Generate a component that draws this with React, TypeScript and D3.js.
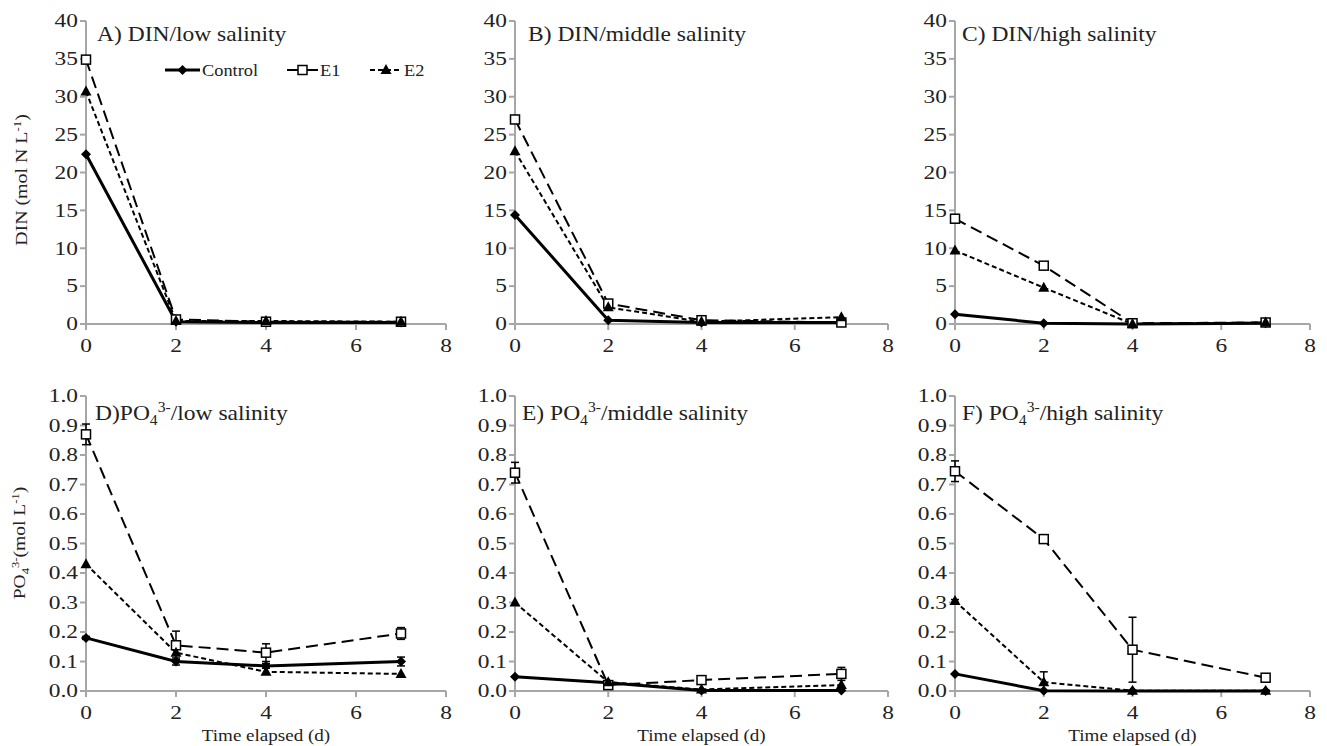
import * as React from 'react';
import * as d3 from 'd3';

const days = [0, 2, 4, 7];
const seriesNames = ['Control', 'E1', 'E2'];

// DIN panels (mol N L-1)
const dinLowControl = [22.4, 0.3, 0.2, 0.2];
const dinLowE1 = [34.9, 0.6, 0.3, 0.3];
const dinLowE2 = [30.7, 0.4, 0.4, 0.3];
const dinMidControl = [14.4, 0.5, 0.2, 0.2];
const dinMidE1 = [27.0, 2.7, 0.5, 0.2];
const dinMidE2 = [22.8, 2.2, 0.3, 0.9];
const dinHighControl = [1.3, 0.1, 0.0, 0.1];
const dinHighE1 = [13.9, 7.7, 0.1, 0.2];
const dinHighE2 = [9.7, 4.8, 0.0, 0.2];

// PO4 panels (mol L-1)
const poLowControl = [0.18, 0.1, 0.085, 0.1];
const poLowE1 = [0.87, 0.155, 0.13, 0.195];
const poLowE2 = [0.43, 0.13, 0.065, 0.058];
const poMidControl = [0.048, 0.028, 0.002, 0.002];
const poMidE1 = [0.74, 0.02, 0.037, 0.058];
const poMidE2 = [0.3, 0.03, 0.005, 0.02];
const poHighControl = [0.058, 0.001, 0.0, 0.0];
const poHighE1 = [0.745, 0.515, 0.14, 0.045];
const poHighE2 = [0.305, 0.03, 0.001, 0.001];

// error bars (half-widths), same order as days
const poLowErrControl = [0.005, 0.012, 0.008, 0.015];
const poLowErrE1 = [0.035, 0.048, 0.03, 0.02];
const poMidErrE1 = [0.035, 0.005, 0.008, 0.022];
const poHighErrE1 = [0.035, 0.01, 0.11, 0.008];
const poHighErrE2 = [0.005, 0.035, 0.002, 0.002];

const dinTicks = [0, 5, 10, 15, 20, 25, 30, 35, 40];
const poTicks = [0, 0.1, 0.2, 0.3, 0.4, 0.5, 0.6, 0.7, 0.8, 0.9, 1.0];
const xTicks = [0, 2, 4, 6, 8];

const FONT = "'Liberation Serif', 'Times New Roman', Times, serif";
const AXIS = '#a6a6a6';

const styles = [
  { width: 3, dash: '' },
  { width: 2, dash: '12,6' },
  { width: 2, dash: '5,3' },
];

// text that is a little wider than the font, as in the reference
function T({ x, y, sx = 1, rot = 0, size, anchor = 'start', dy, children }: any) {
  return (
    <text transform={`translate(${x},${y}) rotate(${rot}) scale(${sx},1)`} fontSize={size}
      textAnchor={anchor} dy={dy}>
      {children}
    </text>
  );
}

type PanelProps = {
  left: number; right: number; top: number; bottom: number;
  ymax: number; ticks: number[]; fmt: (v: number) => string;
  data: number[][]; errs?: (number[] | null)[];
  title: React.ReactNode; titleX: number; titleY: number;
  xLabel?: boolean;
};

function Marker({ kind, x, y }: { kind: number; x: number; y: number }) {
  if (kind === 0) {
    return <path d={`M${x},${y - 5}L${x + 5},${y}L${x},${y + 5}L${x - 5},${y}Z`} fill="#000" />;
  }
  if (kind === 1) {
    return <rect x={x - 4.5} y={y - 4.5} width={9} height={9} fill="#fff" stroke="#000" strokeWidth={1.5} />;
  }
  return <path d={`M${x},${y - 6}L${x + 5.5},${y + 4}L${x - 5.5},${y + 4}Z`} fill="#000" />;
}

function Panel(p: PanelProps) {
  const x = d3.scaleLinear().domain([0, 8]).range([p.left, p.right]);
  const y = d3.scaleLinear().domain([0, p.ymax]).range([p.bottom, p.top]);
  const line = d3.line<number>().x((_, i) => x(days[i])).y((v) => y(v));
  return (
    <g>
      <line x1={p.left} x2={p.left} y1={p.top} y2={p.bottom} stroke={AXIS} strokeWidth={2} />
      <line x1={p.left} x2={p.right} y1={p.bottom} y2={p.bottom} stroke={AXIS} strokeWidth={2} />
      {p.ticks.map((t) => (
        <g key={'y' + t}>
          <line x1={p.left - 6} x2={p.left} y1={y(t)} y2={y(t)} stroke={AXIS} strokeWidth={2} />
          <T x={p.left - 8} y={y(t)} dy="0.35em" anchor="end" size={18} sx={1.3}>
            {p.fmt(t)}
          </T>
        </g>
      ))}
      {xTicks.map((t) => (
        <g key={'x' + t}>
          <line x1={x(t)} x2={x(t)} y1={p.bottom} y2={p.bottom + 6} stroke={AXIS} strokeWidth={2} />
          <T x={x(t)} y={p.bottom + 28} anchor="middle" size={18} sx={1.3}>
            {t}
          </T>
        </g>
      ))}
      {p.xLabel && (
        <T x={(p.left + p.right) / 2} y={p.bottom + 50} anchor="middle" size={16} sx={1.19}>
          Time elapsed (d)
        </T>
      )}
      <T x={p.titleX} y={p.titleY} size={21} sx={1.12}>
        {p.title}
      </T>
      {p.data.map((s, k) => (
        <path key={'l' + k} d={line(s) || ''} fill="none" stroke="#000"
          strokeWidth={styles[k].width} strokeDasharray={styles[k].dash} />
      ))}
      {p.data.map((s, k) =>
        p.errs && p.errs[k]
          ? s.map((v, i) => {
              const e = (p.errs![k] as number[])[i];
              const cx = x(days[i]);
              return (
                <g key={'e' + k + i} stroke="#000" strokeWidth={1.5}>
                  <line x1={cx} x2={cx} y1={y(v + e)} y2={y(Math.max(0, v - e))} />
                  <line x1={cx - 4} x2={cx + 4} y1={y(v + e)} y2={y(v + e)} />
                  <line x1={cx - 4} x2={cx + 4} y1={y(Math.max(0, v - e))} y2={y(Math.max(0, v - e))} />
                </g>
              );
            })
          : null
      )}
      {p.data.map((s, k) =>
        s.map((v, i) => <Marker key={'m' + k + i} kind={k} x={x(days[i])} y={y(v)} />)
      )}
    </g>
  );
}

const po = (label: string) => (
  <>
    {label}PO<tspan fontSize={14} dy={5}>4</tspan>
    <tspan fontSize={14} dy={-13}>3-</tspan>
    <tspan dy={8}>/</tspan>
  </>
);

export default function App() {
  const cols = [
    { left: 86, right: 446 },
    { left: 515, right: 888 },
    { left: 955, right: 1310 },
  ];
  const top = { top: 21, bottom: 324 };
  const bot = { top: 396, bottom: 691 };
  const dinFmt = (v: number) => String(v);
  const poFmt = (v: number) => v.toFixed(1);
  const legendItems = [
    { x1: 165, x2: 200 },
    { x1: 287, x2: 318 },
    { x1: 370, x2: 402 },
  ];
  return (
    <svg width={1327} height={746}
      style={{ position: 'absolute', left: 0, top: 0, background: '#fff', fontFamily: FONT, fill: '#222' }}>
      <Panel {...cols[0]} {...top} ymax={40} ticks={dinTicks} fmt={dinFmt}
        data={[dinLowControl, dinLowE1, dinLowE2]}
        title="A) DIN/low salinity" titleX={97} titleY={41} />
      <Panel {...cols[1]} {...top} ymax={40} ticks={dinTicks} fmt={dinFmt}
        data={[dinMidControl, dinMidE1, dinMidE2]}
        title="B) DIN/middle salinity" titleX={528} titleY={41} />
      <Panel {...cols[2]} {...top} ymax={40} ticks={dinTicks} fmt={dinFmt}
        data={[dinHighControl, dinHighE1, dinHighE2]}
        title="C) DIN/high salinity" titleX={962} titleY={41} />
      <Panel {...cols[0]} {...bot} ymax={1} ticks={poTicks} fmt={poFmt}
        data={[poLowControl, poLowE1, poLowE2]}
        errs={[poLowErrControl, poLowErrE1, null]}
        title={<>{po('D)')}low salinity</>} titleX={95} titleY={420} xLabel />
      <Panel {...cols[1]} {...bot} ymax={1} ticks={poTicks} fmt={poFmt}
        data={[poMidControl, poMidE1, poMidE2]}
        errs={[null, poMidErrE1, null]}
        title={<>{po('E) ')}middle salinity</>} titleX={522} titleY={420} xLabel />
      <Panel {...cols[2]} {...bot} ymax={1} ticks={poTicks} fmt={poFmt}
        data={[poHighControl, poHighE1, poHighE2]}
        errs={[null, poHighErrE1, poHighErrE2]}
        title={<>{po('F) ')}high salinity</>} titleX={962} titleY={420} xLabel />

      {/* legend */}
      {seriesNames.map((n, k) => {
        const it = legendItems[k];
        return (
          <g key={n}>
            <line x1={it.x1} x2={it.x2} y1={70} y2={70} stroke="#000"
              strokeWidth={styles[k].width} strokeDasharray={k === 1 ? '' : styles[k].dash} />
            <Marker kind={k} x={(it.x1 + it.x2) / 2} y={70} />
            <T x={it.x2 + 2} y={70} dy="0.35em" size={17} sx={1.08}>{n}</T>
          </g>
        );
      })}

      {/* y axis titles */}
      <T x={27} y={180} rot={-90} anchor="middle" size={17} sx={1.17}>
        DIN (mol N L<tspan fontSize={11} dy={-6}>-1</tspan><tspan dy={6}>)</tspan>
      </T>
      <T x={25} y={543} rot={-90} anchor="middle" size={17} sx={1.15}>
        PO<tspan fontSize={11} dy={4}>4</tspan><tspan fontSize={11} dy={-10}>3-</tspan>
        <tspan dy={6}>(mol L</tspan><tspan fontSize={11} dy={-6}>-1</tspan><tspan dy={6}>)</tspan>
      </T>
    </svg>
  );
}
